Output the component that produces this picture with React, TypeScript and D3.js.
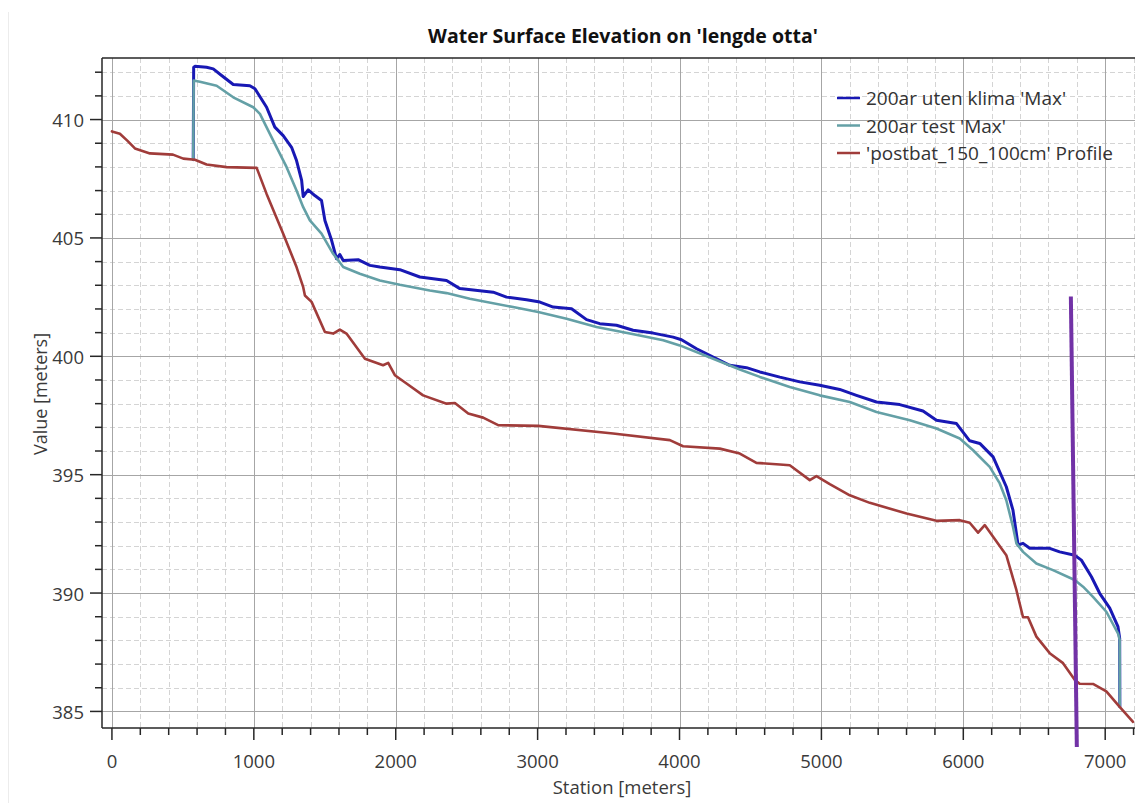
import React from "react";
import * as d3 from "d3";

// Station [m] and water surface elevation [m] for each profile
const uklimaStation = [573, 576, 585, 667, 714, 773, 855, 972, 1008, 1090, 1148, 1207, 1266, 1301, 1337, 1348, 1383, 1430, 1477, 1501, 1548, 1583, 1606, 1630, 1735, 1818, 1888, 2029, 2170, 2358, 2452, 2687, 2781, 2922, 3016, 3110, 3239, 3345, 3438, 3556, 3673, 3814, 3955, 4014, 4120, 4237, 4354, 4472, 4566, 4707, 4848, 4988, 5129, 5247, 5388, 5552, 5716, 5811, 5952, 6045, 6116, 6210, 6303, 6350, 6386, 6421, 6468, 6609, 6679, 6785, 6832, 6903, 6961, 7032, 7090, 7102, 7103];
const uklimaValue = [408.3, 412.2, 412.25, 412.21, 412.14, 411.86, 411.48, 411.43, 411.3, 410.52, 409.68, 409.32, 408.83, 408.27, 407.43, 406.75, 407.03, 406.79, 406.58, 405.74, 404.9, 404.12, 404.3, 404.05, 404.08, 403.84, 403.77, 403.66, 403.35, 403.2, 402.86, 402.71, 402.5, 402.39, 402.29, 402.08, 402.01, 401.55, 401.38, 401.31, 401.1, 400.98, 400.81, 400.7, 400.32, 399.97, 399.62, 399.52, 399.34, 399.12, 398.92, 398.78, 398.6, 398.35, 398.07, 397.96, 397.69, 397.3, 397.16, 396.43, 396.32, 395.75, 394.49, 393.5, 392.03, 392.1, 391.89, 391.89, 391.74, 391.6, 391.39, 390.69, 389.99, 389.36, 388.58, 388.09, 385.2];

const testStation = [573, 576, 620, 738, 855, 996, 1043, 1137, 1231, 1301, 1348, 1395, 1477, 1559, 1630, 1747, 1888, 2029, 2240, 2358, 2522, 2827, 3004, 3204, 3415, 3650, 3885, 4002, 4237, 4425, 4566, 4777, 4988, 5200, 5388, 5623, 5811, 5975, 6069, 6186, 6257, 6303, 6350, 6374, 6421, 6515, 6632, 6785, 6844, 6914, 7008, 7090, 7102, 7103];
const testValue = [408.3, 411.65, 411.6, 411.43, 410.94, 410.52, 410.24, 409.11, 407.99, 407.0, 406.3, 405.74, 405.18, 404.33, 403.77, 403.49, 403.2, 403.02, 402.78, 402.67, 402.43, 402.08, 401.87, 401.59, 401.24, 400.96, 400.68, 400.46, 399.9, 399.44, 399.13, 398.7, 398.35, 398.07, 397.65, 397.3, 396.95, 396.53, 396.03, 395.33, 394.63, 393.92, 392.8, 392.1, 391.74, 391.25, 390.97, 390.55, 390.27, 389.84, 389.21, 388.3, 388.02, 385.2];

const profileStation = [0, 56, 110, 162, 268, 430, 503, 585, 667, 808, 1020, 1090, 1207, 1301, 1348, 1360, 1407, 1501, 1559, 1606, 1653, 1783, 1911, 1947, 1994, 2076, 2193, 2358, 2417, 2511, 2616, 2722, 3004, 3532, 3932, 4025, 4284, 4425, 4542, 4707, 4777, 4918, 4965, 5059, 5200, 5341, 5600, 5811, 5975, 6045, 6104, 6151, 6210, 6303, 6374, 6421, 6456, 6515, 6609, 6703, 6785, 6820, 6914, 7008, 7102, 7196];
const profileValue = [409.5, 409.4, 409.1, 408.78, 408.57, 408.52, 408.35, 408.3, 408.1, 407.99, 407.96, 406.86, 405.18, 403.77, 402.92, 402.57, 402.3, 401.03, 400.96, 401.13, 400.96, 399.9, 399.62, 399.72, 399.2, 398.85, 398.35, 398.0, 398.03, 397.58, 397.41, 397.09, 397.06, 396.74, 396.46, 396.2, 396.1, 395.89, 395.5, 395.43, 395.4, 394.77, 394.94, 394.6, 394.13, 393.81, 393.36, 393.05, 393.08, 392.97, 392.55, 392.87, 392.38, 391.6, 390.13, 388.98, 388.98, 388.16, 387.46, 387.04, 386.34, 386.17, 386.16, 385.85, 385.19, 384.56];

const seriesNames = ["200ar uten klima 'Max'", "200ar test 'Max'", "'postbat_150_100cm' Profile"];
const seriesColors = ["#1818b4", "#64a0a6", "#a03c3a"];

const xTickValues = [0, 1000, 2000, 3000, 4000, 5000, 6000, 7000];
const yTickValues = [385, 390, 395, 400, 405, 410];

// Hand-drawn marker line (station, elevation) endpoints
const markerStation = [6758, 6800];
const markerValue = [402.53, 383.5];

const W = 1135;
const H = 803;
const left = 102;
const right = 1135;
const top = 58;
const bottom = 728;

const FONT = "'Open Sans', 'Noto Sans', sans-serif";

export default function App() {
  const x = d3.scaleLinear().domain([-70, 7210]).range([left, right]);
  const y = d3.scaleLinear().domain([384.3, 412.6]).range([bottom, top]);

  const xMinor = d3.range(0, 7201, 200);
  const yMinor = d3.range(385, 413, 1);

  const line = d3
    .line<[number, number]>()
    .x((d) => x(d[0]))
    .y((d) => y(d[1]));

  const series = [
    { st: uklimaStation, v: uklimaValue, w: 3 },
    { st: testStation, v: testValue, w: 2.6 },
    { st: profileStation, v: profileValue, w: 2.6 },
  ].map((s, i) => ({
    d: line(s.st.map((st, j) => [st, s.v[j]] as [number, number])) || "",
    color: seriesColors[i],
    w: s.w,
  }));

  return (
    <div style={{ position: "absolute", left: 0, top: 0, width: W, height: H, overflow: "hidden", background: "#fff" }}>
      <svg width={W} height={H} style={{ display: "block" }}>
        <rect x={0} y={0} width={W} height={H} fill="#fff" />
        <line x1={8.5} x2={8.5} y1={12} y2={H} stroke="#ececec" strokeWidth={1} />

        {/* minor grid */}
        <g stroke="#d4d4d4" strokeWidth={1} strokeDasharray="5,3">
          {xMinor.filter((v) => v % 1000 !== 0).map((v) => (
            <line key={"xm" + v} x1={Math.round(x(v)) + 0.5} x2={Math.round(x(v)) + 0.5} y1={top} y2={bottom} />
          ))}
          {yMinor.filter((v) => v % 5 !== 0).map((v) => (
            <line key={"ym" + v} x1={left} x2={right} y1={Math.round(y(v)) + 0.5} y2={Math.round(y(v)) + 0.5} />
          ))}
        </g>
        {/* major grid */}
        <g stroke="#a6a6a6" strokeWidth={1}>
          {xTickValues.map((v) => (
            <line key={"xg" + v} x1={Math.round(x(v)) + 0.5} x2={Math.round(x(v)) + 0.5} y1={top} y2={bottom} />
          ))}
          {yTickValues.map((v) => (
            <line key={"yg" + v} x1={left} x2={right} y1={Math.round(y(v)) + 0.5} y2={Math.round(y(v)) + 0.5} />
          ))}
        </g>

        {/* data lines */}
        <g fill="none" strokeLinejoin="round" strokeLinecap="round">
          {series.map((s, i) => (
            <path key={i} d={s.d} stroke={s.color} strokeWidth={s.w} />
          ))}
        </g>

        {/* frame and axes */}
        <g stroke="#262626" strokeWidth={1.5}>
          <line x1={left} x2={right} y1={top} y2={top} />
          <line x1={left} x2={left} y1={top} y2={bottom} />
          <line x1={left} x2={right} y1={bottom} y2={bottom} />
          {yMinor.map((v) => (
            <line key={"yt" + v} x1={left - (v % 5 === 0 ? 12 : 7)} x2={left} y1={y(v)} y2={y(v)} />
          ))}
          {xMinor.map((v) => (
            <line key={"xt" + v} x1={x(v)} x2={x(v)} y1={bottom} y2={bottom + (v % 1000 === 0 ? 12 : 7)} />
          ))}
        </g>

        {/* tick labels */}
        <g fontFamily={FONT} fontSize={18.5} fill="#3a3a3a">
          {yTickValues.map((v) => (
            <text key={"yl" + v} x={84} y={y(v)} textAnchor="end" dominantBaseline="central">
              {v}
            </text>
          ))}
          {xTickValues.map((v) => (
            <text key={"xl" + v} x={x(v)} y={768} textAnchor="middle">
              {v}
            </text>
          ))}
        </g>

        {/* axis titles */}
        <text x={622} y={794} textAnchor="middle" fontFamily={FONT} fontSize={18.5} fill="#3a3a3a">
          Station [meters]
        </text>
        <text
          transform={`translate(40,394) rotate(-90)`}
          textAnchor="middle"
          dominantBaseline="central"
          fontFamily={FONT}
          fontSize={18}
          fill="#3a3a3a"
        >
          Value [meters]
        </text>
        <text x={623} y={43} textAnchor="middle" fontFamily={FONT} fontSize={19.5} fontWeight="bold" fill="#111">
          Water Surface Elevation on 'lengde otta'
        </text>

        {/* legend */}
        <g fontFamily={FONT} fontSize={19} fill="#333">
          {seriesNames.map((n, i) => (
            <g key={n} transform={`translate(0,${98 + i * 27.5})`}>
              <line x1={837} x2={860} y1={0} y2={0} stroke={seriesColors[i]} strokeWidth={2.5} />
              <text x={866} y={0} dominantBaseline="central">
                {n}
              </text>
            </g>
          ))}
        </g>

        {/* marker */}
        <line
          x1={x(markerStation[0])}
          y1={y(markerValue[0])}
          x2={x(markerStation[1])}
          y2={y(markerValue[1])}
          stroke="#7232a6"
          strokeWidth={4}
        />
      </svg>
    </div>
  );
}
